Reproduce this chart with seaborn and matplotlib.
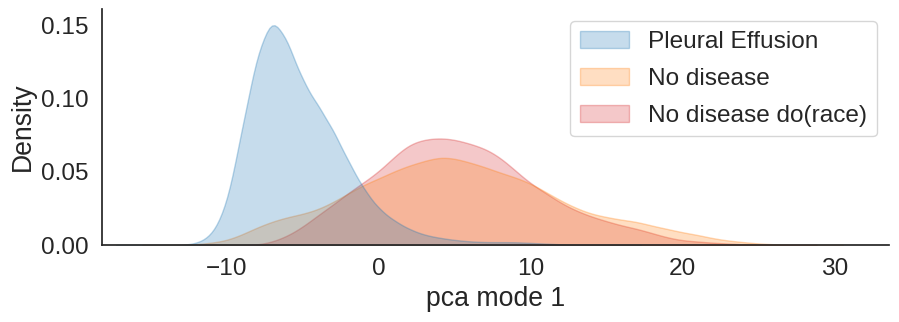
import numpy as np
import pandas as pd
import matplotlib
matplotlib.use("Agg")
import matplotlib.pyplot as plt
from matplotlib.colors import to_rgba
import seaborn as sns

pleural_x = [-13, -12, -11, -10, -9, -8, -7, -6, -5, -4, -3, -2, -1, 0, 1, 2, 3,
             4, 5, 6, 7, 8, 9, 10, 11, 12, 13]
pleural_density = [0.0, 0.001, 0.006, 0.026, 0.080, 0.133, 0.160, 0.142, 0.113,
                   0.097, 0.080, 0.058, 0.039, 0.025, 0.017, 0.011, 0.007, 0.005,
                   0.0035, 0.0025, 0.002, 0.002, 0.002, 0.0015, 0.001, 0.0005, 0.0]

nodisease_x = [-12, -11, -10, -9, -8, -7, -6, -5, -4, -3, -2, -1, 0, 1, 2, 3, 4,
               5, 6, 7, 8, 9, 10, 11, 12, 13, 14, 15, 16, 17, 18, 19, 20, 21, 22,
               23, 24, 25, 26, 27]
nodisease_density = [0.0005, 0.0015, 0.003, 0.007, 0.012, 0.016, 0.019, 0.021,
                     0.024, 0.029, 0.035, 0.041, 0.045, 0.050, 0.054, 0.057, 0.060,
                     0.059, 0.056, 0.053, 0.049, 0.046, 0.042, 0.036, 0.030, 0.025,
                     0.021, 0.019, 0.017, 0.016, 0.013, 0.011, 0.0085, 0.007,
                     0.0045, 0.003, 0.002, 0.001, 0.0005, 0.0002]

dorace_x = [-8, -7, -6, -5, -4, -3, -2, -1, 0, 1, 2, 3, 4, 5, 6, 7, 8, 9, 10, 11,
            12, 13, 14, 15, 16, 17, 18, 19, 20, 21, 22, 23, 24, 25]
dorace_density = [0.0, 0.002, 0.006, 0.012, 0.020, 0.027, 0.035, 0.042, 0.049,
                  0.059, 0.068, 0.071, 0.072, 0.071, 0.068, 0.065, 0.059, 0.050,
                  0.041, 0.035, 0.028, 0.023, 0.019, 0.016, 0.013, 0.011, 0.008,
                  0.005, 0.003, 0.0024, 0.0015, 0.001, 0.0005, 0.0]

labels = ["Pleural Effusion", "No disease", "No disease do(race)"]
colors = ["tab:blue", "tab:orange", "tab:red"]

sns.set_theme(style="white", font_scale=1.6)
plt.rcParams["font.family"] = ["Liberation Sans", "DejaVu Sans"]

fig, ax = plt.subplots(figsize=(8.99, 3.22), dpi=100)
fig.subplots_adjust(left=0.1135, right=0.989, top=0.972, bottom=0.239)

series = [
    (pleural_x, pleural_density, 0.58),
    (nodisease_x, nodisease_density, 0.7),
    (dorace_x, dorace_density, 0.7),
]

# draw last series first so the first one ends up on top (like seaborn's hue layering)
for i in [2, 1, 0]:
    xs, ws, bw = series[i]
    df = pd.DataFrame({"x": xs, "w": ws})
    mu = np.average(df["x"], weights=df["w"])
    sd = np.sqrt(np.average((df["x"] - mu) ** 2, weights=df["w"]))
    sns.kdeplot(data=df, x="x", weights="w", fill=True, bw_method=bw / sd,
                color=colors[i], alpha=0.25, edgecolor=to_rgba(colors[i], 0.3),
                linewidth=1.0, label=labels[i], ax=ax)

handles, labs = ax.get_legend_handles_labels()
ax.legend(handles[::-1], labs[::-1], loc="upper right", labelspacing=0.6)

ax.set_xlim(-18.2, 33.6)
ax.set_ylim(0, 0.161)
ax.set_yticks([0, 0.05, 0.10, 0.15])
ax.set_xlabel("pca mode 1")
ax.set_ylabel("Density")
sns.despine(ax=ax)

plt.savefig("out.png", dpi=100)
